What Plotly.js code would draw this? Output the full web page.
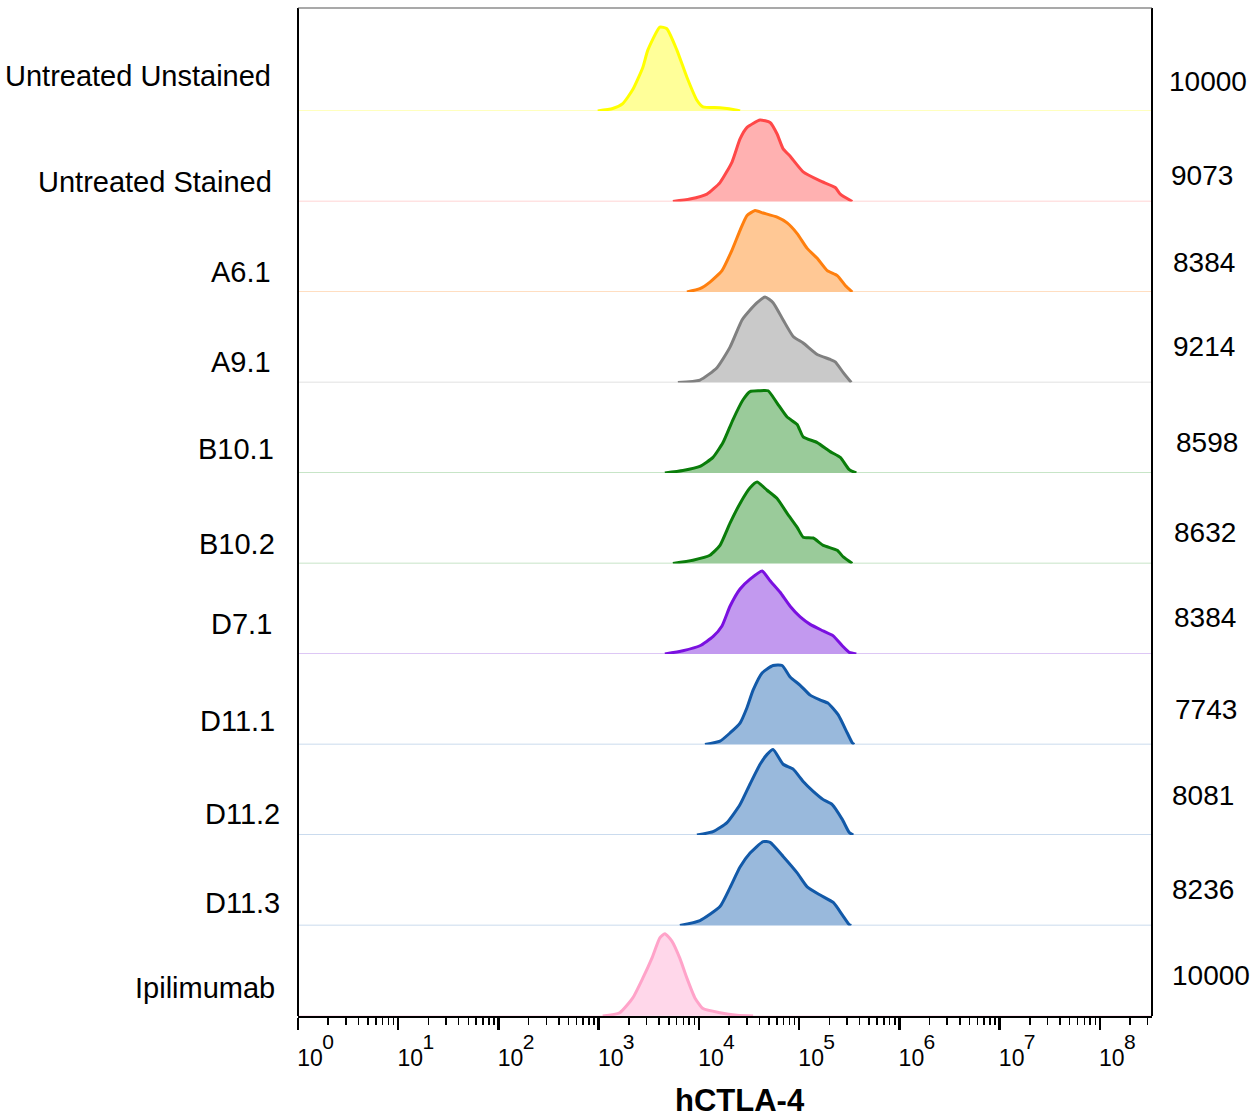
<!DOCTYPE html>
<html>
<head>
<meta charset="utf-8">
<script src="https://cdn.plot.ly/plotly-3.0.1.min.js"></script>
<style>html,body{margin:0;padding:0;background:#fff;}#chart{width:1255px;height:1118px;}</style>
</head>
<body>
<div id="chart"></div>
<script>
// ---- data ----
const samples = ['Untreated Unstained', 'Untreated Stained', 'A6.1', 'A9.1', 'B10.1', 'B10.2', 'D7.1', 'D11.1', 'D11.2', 'D11.3', 'Ipilimumab'];
const eventCounts = [10000, 9073, 8384, 9214, 8598, 8632, 8384, 7743, 8081, 8236, 10000];

// log10(hCTLA-4 fluorescence) and % of max, per sample
const logUntreatedUnstained = [2.99, 3.14, 3.24, 3.34, 3.44, 3.49, 3.61, 3.68, 3.78, 3.88, 3.98, 4.04, 4.21, 4.38, 4.41];
const pctUntreatedUnstained = [0, 3, 9, 26, 53, 74, 102, 100, 74, 41, 13, 5, 4, 1, 0];

const logUntreatedStained = [3.74, 3.91, 4.08, 4.21, 4.33, 4.41, 4.48, 4.61, 4.71, 4.78, 4.84, 4.91, 5.04, 5.21, 5.36, 5.41, 5.53];
const pctUntreatedStained = [0, 3, 9, 23, 48, 76, 90, 99, 96, 82, 64, 55, 36, 25, 17, 9, 0];

const logA61 = [3.88, 4.01, 4.11, 4.23, 4.33, 4.41, 4.48, 4.56, 4.64, 4.78, 4.88, 4.98, 5.08, 5.18, 5.28, 5.38, 5.46, 5.53];
const pctA61 = [0, 4, 12, 26, 51, 75, 93, 99, 96, 91, 84, 71, 53, 41, 26, 20, 8, 0];

const logA91 = [3.79, 4.01, 4.18, 4.31, 4.43, 4.51, 4.58, 4.66, 4.74, 4.84, 4.94, 5.04, 5.18, 5.31, 5.36, 5.44, 5.52];
const pctA91 = [0, 3, 18, 43, 76, 88, 97, 104, 97, 76, 56, 48, 34, 28, 25, 12, 0];

const logB101 = [3.66, 3.84, 4.01, 4.14, 4.24, 4.34, 4.44, 4.51, 4.60, 4.69, 4.78, 4.88, 4.98, 5.04, 5.18, 5.31, 5.41, 5.50, 5.57];
const pctB101 = [0, 3, 8, 19, 37, 65, 89, 99, 100, 100, 85, 68, 59, 44, 37, 26, 19, 4, 0];

const logB102 = [3.74, 3.94, 4.11, 4.21, 4.31, 4.41, 4.51, 4.58, 4.68, 4.78, 4.88, 4.98, 5.04, 5.14, 5.24, 5.38, 5.44, 5.53];
const pctB102 = [0, 4, 10, 22, 49, 73, 92, 99, 89, 79, 61, 44, 32, 31, 22, 16, 8, 0];

const logD71 = [3.66, 3.84, 4.01, 4.14, 4.23, 4.31, 4.41, 4.51, 4.63, 4.71, 4.81, 4.91, 5.01, 5.11, 5.24, 5.34, 5.43, 5.50, 5.57];
const pctD71 = [0, 4, 10, 21, 34, 58, 79, 91, 101, 89, 75, 58, 45, 36, 28, 22, 10, 2, 0];

const logD111 = [4.06, 4.21, 4.31, 4.41, 4.48, 4.54, 4.63, 4.74, 4.83, 4.91, 5.01, 5.11, 5.21, 5.29, 5.39, 5.48, 5.53, 5.55];
const pctD111 = [0, 4, 14, 26, 45, 66, 87, 96, 96, 82, 72, 60, 54, 50, 36, 14, 2, 0];

const logD112 = [3.98, 4.14, 4.28, 4.41, 4.51, 4.61, 4.68, 4.74, 4.84, 4.94, 5.04, 5.14, 5.24, 5.33, 5.43, 5.50, 5.54];
const pctD112 = [0, 4, 15, 37, 62, 86, 98, 104, 86, 80, 65, 53, 43, 37, 19, 3, 0];

const logD113 = [3.81, 4.01, 4.21, 4.31, 4.41, 4.51, 4.64, 4.71, 4.84, 4.98, 5.08, 5.21, 5.34, 5.43, 5.50, 5.52];
const pctD113 = [0, 6, 23, 46, 71, 88, 102, 101, 84, 64, 47, 37, 28, 13, 1, 0];

const logIpilimumab = [3.04, 3.21, 3.34, 3.44, 3.53, 3.61, 3.66, 3.73, 3.81, 3.88, 3.96, 4.04, 4.21, 4.38, 4.54];
const pctIpilimumab = [0, 4, 22, 46, 70, 95, 100, 91, 70, 46, 22, 9, 4, 1, 0];

const logSeries = [logUntreatedUnstained, logUntreatedStained, logA61, logA91, logB101, logB102, logD71, logD111, logD112, logD113, logIpilimumab];
const pctSeries = [pctUntreatedUnstained, pctUntreatedStained, pctA61, pctA91, pctB101, pctB102, pctD71, pctD111, pctD112, pctD113, pctIpilimumab];

const decadeExponents = [0, 1, 2, 3, 4, 5, 6, 7, 8];
const minorMultipliers = [2, 3, 4, 5, 6, 7, 8, 9];
const axisLogMax = 8.52;

// ---- styles / layout nudges ----
const lineColors = ['#ffff00', '#ff4848', '#ff7f0e', '#808080', '#0a7d0a', '#0a7d0a', '#7a10e0', '#1259a8', '#1259a8', '#1259a8', '#ffa3c9'];
const fillColors = ['#ffff99', '#ffb1b1', '#ffc895', '#c9c9c9', '#9acb9a', '#9acb9a', '#c299ef', '#99b9dc', '#99b9dc', '#99b9dc', '#ffd7ea'];
const baseColors = ['#ffffa8', '#ffc6c6', '#ffd3ad', '#d8d8d8', '#b5dcb5', '#b5dcb5', '#d2b5f2', '#b9cfe8', '#b9cfe8', '#b9cfe8', '#ffe0ee'];
const labelRise = [35, 20, 20, 21, 24, 20, 30, 24, 21, 23, 28];      // px above row baseline
const labelRightGap = [25, 24, 25, 25, 22, 21, 24, 21, 16, 16, 21];  // px left of plot edge
const countRise = [29, 26, 30, 36, 31, 31, 36, 35, 40, 36, 41];
const countLeftGap = [15, 17, 19, 19, 22, 20, 20, 21, 18, 18, 18];

const FONT = 'Liberation Sans, Arial, Helvetica, sans-serif';
const nRows = samples.length;
const rowPx = 90.5, plotPx = 1008;
const tickVals = decadeExponents.map(e => Math.pow(10, e));

const traces = [];
const layout = {
  width: 1255, height: 1118,
  margin: {l: 298, r: 103, t: 8, b: 102},
  paper_bgcolor: '#fff', plot_bgcolor: '#fff',
  showlegend: false,
  font: {family: FONT, color: '#000'},
  xaxis: {
    type: 'log', range: [0, axisLogMax], anchor: 'y' + nRows,
    showgrid: false, zeroline: false,
    showline: true, linecolor: '#000', linewidth: 2,
    ticks: 'outside', ticklen: 12, tickwidth: 2.5, tickcolor: '#000',
    tickmode: 'array',
    tickvals: tickVals,
    ticktext: decadeExponents.map(() => '10'),
    tickfont: {family: FONT, size: 23, color: '#000'},
    ticklabelshift: 12,
    ticklabelstandoff: 8,
    minor: {
      ticks: 'outside', ticklen: 7, tickwidth: 1.5, tickcolor: '#000', showgrid: false,
      tickmode: 'array',
      tickvals: decadeExponents.flatMap(e => minorMultipliers.map(m => m * Math.pow(10, e))).filter(v => Math.log10(v) < axisLogMax)
    },
    fixedrange: true
  },
  // exponent (superscript) labels of the decade ticks
  xaxis2: {
    type: 'log', range: [0, axisLogMax], overlaying: 'x', anchor: 'y' + nRows, side: 'bottom',
    showgrid: false, zeroline: false, showline: false, ticks: '',
    tickmode: 'array', tickvals: tickVals, ticktext: decadeExponents.map(String),
    tickfont: {family: FONT, size: 21, color: '#000'},
    ticklabelshift: 30, ticklabelstandoff: 11,
    fixedrange: true
  },
  annotations: [],
  shapes: [
    {type: 'line', xref: 'paper', yref: 'paper', x0: 0, x1: 0, y0: 0, y1: 1, line: {color: '#000', width: 2}},
    {type: 'line', xref: 'paper', yref: 'paper', x0: 1, x1: 1, y0: 0, y1: 1, line: {color: '#000', width: 2}},
    {type: 'line', xref: 'paper', yref: 'paper', x0: 0, x1: 1, y0: 1, y1: 1, line: {color: '#555', width: 1.2}}
  ]
};

for (let k = 0; k < nRows; k++) {
  const ax = 'y' + (k + 1);
  const axKey = 'yaxis' + (k === 0 ? '' : (k + 1));
  const lo = (nRows - 1 - k) * rowPx / plotPx;
  const hi = ((nRows - 1 - k) * rowPx + rowPx) / plotPx;
  layout[axKey] = {domain: [lo, Math.min(hi, 1)], range: [0, 110], visible: false, fixedrange: true};

  // baseline across the full axis
  traces.push({
    x: [1, Math.pow(10, axisLogMax)], y: [0, 0], xaxis: 'x', yaxis: ax,
    mode: 'lines', line: {color: baseColors[k], width: 1.5}, hoverinfo: 'skip'
  });
  // histogram
  traces.push({
    x: logSeries[k].map(v => Math.pow(10, v)), y: pctSeries[k], xaxis: 'x', yaxis: ax,
    mode: 'lines', line: {color: lineColors[k], width: 3, shape: 'spline', smoothing: 0.5},
    fill: 'tozeroy', fillcolor: fillColors[k], name: samples[k]
  });

  layout.annotations.push({
    text: samples[k], xref: 'paper', yref: ax + ' domain', x: 0, y: 0,
    xanchor: 'right', yanchor: 'middle', xshift: -labelRightGap[k], yshift: labelRise[k], showarrow: false,
    font: {family: FONT, size: 29, color: '#000'}
  });
  layout.annotations.push({
    text: String(eventCounts[k]), xref: 'paper', yref: ax + ' domain', x: 1, y: 0,
    xanchor: 'left', yanchor: 'middle', xshift: countLeftGap[k], yshift: countRise[k], showarrow: false,
    font: {family: FONT, size: 28, color: '#000'}
  });
}

// invisible carrier trace so the exponent axis is drawn
traces.push({
  x: [1, Math.pow(10, axisLogMax)], y: [0, 0], xaxis: 'x2', yaxis: 'y' + nRows,
  mode: 'lines', opacity: 0, line: {width: 0}, hoverinfo: 'skip'
});

layout.annotations.push({
  text: '<b>hCTLA-4</b>', xref: 'paper', yref: 'paper', x: (740 - 298) / 854, y: -84 / 1008,
  xanchor: 'center', yanchor: 'middle', showarrow: false,
  font: {family: FONT, size: 31, color: '#000'}
});

Plotly.newPlot('chart', traces, layout, {staticPlot: true, displayModeBar: false});
</script>
</body>
</html>
